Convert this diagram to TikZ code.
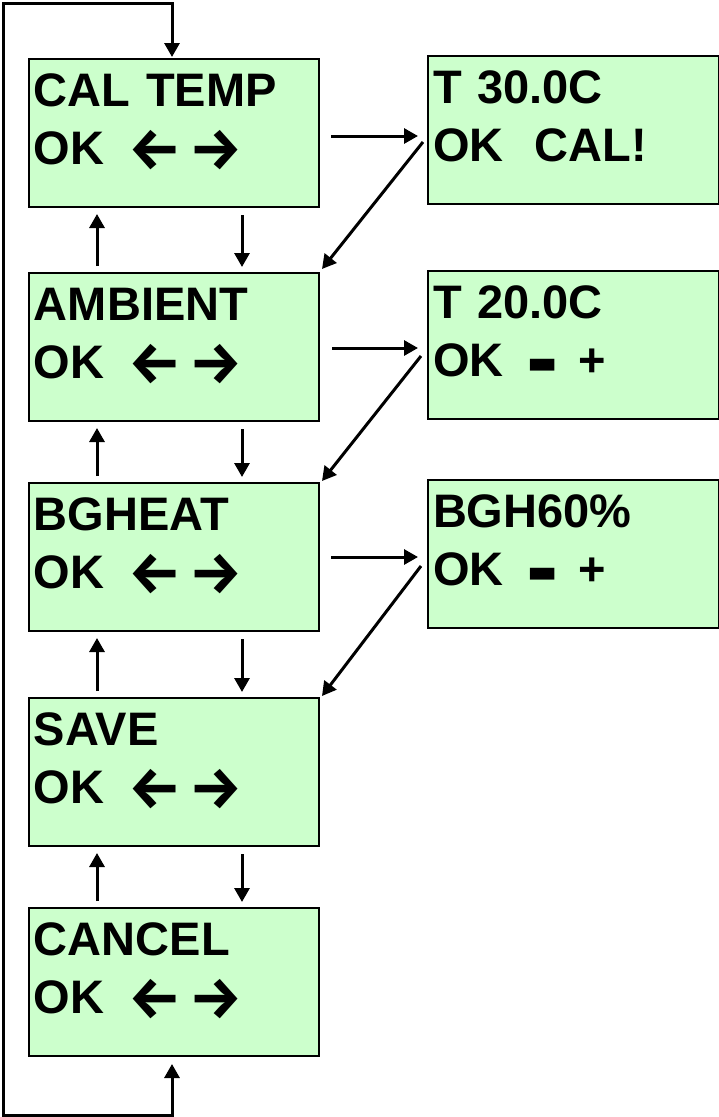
\documentclass[tikz,border=0pt]{standalone}
\usepackage{fontspec}
\setmainfont{Liberation Sans}
\newfontfamily\arrfont{Fira Sans}
\newfontfamily\symfont{DejaVu Sans}
\usetikzlibrary{arrows.meta,calc}
\definecolor{lcd}{HTML}{CCFFCC}
\newcommand{\lr}{\hspace{24pt}\raisebox{-5pt}{\arrfont\bfseries\fontsize{59}{58}\selectfont ←\hspace{8pt}→}}
\newcommand{\mdash}{\hspace{24pt}\raisebox{3pt}{\symfont\fontsize{32}{58}\selectfont ▬}\hspace{21pt}+}
\tikzset{
  screen/.style={draw=black, line width=2pt, fill=lcd, anchor=north west,
    inner xsep=5pt, inner ysep=0pt, text width=280pt, align=left,
    text height=47pt, text depth=101pt,
    font=\fontsize{47}{58}\selectfont\bfseries},
  rscreen/.style={screen, text width=281pt},
  arr/.style={line width=3pt, -{Triangle[length=14pt,width=15pt]}},
  arrboth/.style={line width=3pt, {Triangle[length=14pt,width=15pt]}-{Triangle[length=14pt,width=15pt]}}
}
\begin{document}
\begin{tikzpicture}[x=1pt,y=-1pt]
\useasboundingbox (0,0) rectangle (719,1117);
\node[screen] (cal) at (28,58) {CAL TEMP\\OK\lr};
\node[screen] (amb) at (28,272) {AMBIENT\\OK\lr};
\node[screen] (bgh) at (28,482) {BGHEAT\\OK\lr};
\node[screen] (sav) at (28,697) {SAVE\\OK\lr};
\node[screen] (can) at (28,907) {CANCEL\\OK\lr};
\node[rscreen] (t30) at (427,55) {T 30.0C\\OK\ \ CAL!};
\node[rscreen] (t20) at (427,270) {T 20.0C\\OK\mdash};
\node[rscreen] (b60) at (427,479) {BGH60\%\\OK\mdash};
\coordinate (lb) at (3,1115);
\coordinate (lt) at (3,3);
% vertical arrows
\foreach \u/\l in {cal/amb, amb/bgh, bgh/sav, sav/can}{
  \draw[arr] ($(\l.north west)+(69,-6)$) -- ($(\u.south west)+(69,6)$);
  \draw[arr] ($(\u.south west)+(214,7)$) -- ($(\l.north west)+(214,-5)$);
}
% horizontal arrows
\draw[arr] ($(cal.north east)+(11,78)$) -- ($(t30.north west)+(-9,81)$);
\draw[arr] ($(amb.north east)+(12,76)$) -- ($(t20.north west)+(-9,78)$);
\draw[arr] ($(bgh.north east)+(11,75)$) -- ($(b60.north west)+(-9,78)$);
% diagonal arrows
\draw[arr] ($(t30.north west)+(-4,87)$) -- ($(amb.north east)+(2,-3)$);
\draw[arr] ($(t20.north west)+(-6,86)$) -- ($(bgh.north east)+(2,-1)$);
\draw[arr] ($(b60.north west)+(-6,87)$) -- ($(sav.north east)+(2,-1)$);
% loop
\draw[arrboth] ($(can.south west)+(144,7)$) |- (lb) -- (lt) -| ($(cal.north west)+(144,-1)$);
\end{tikzpicture}
\end{document}
